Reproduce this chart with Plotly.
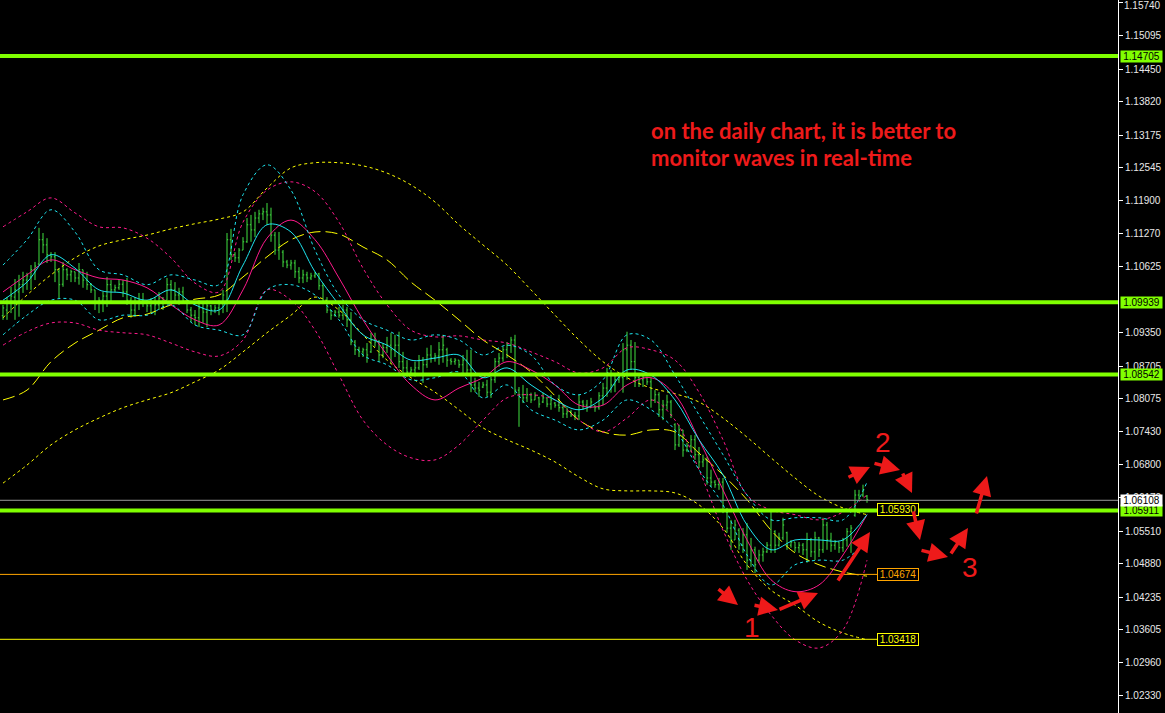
import plotly.graph_objects as go

# ---------------- data ----------------
bar_index = list(range(217))

bar_high = [1.0989,1.1004,1.1024,1.1039,1.1047,1.1053,1.1051,1.1066,1.1072,1.1138,
 1.1128,1.1118,1.1091,1.1091,1.1060,1.1072,1.1060,1.1057,1.1053,1.1070,
 1.1057,1.1053,1.1031,1.1018,1.1004,1.1014,1.1043,1.1037,1.1028,1.1037,
 1.1037,1.1041,1.1004,1.1004,1.1012,1.1012,1.0998,1.1002,1.1004,1.1014,
 1.1004,1.1041,1.1037,1.1033,1.1022,1.1024,1.0995,1.0985,1.0979,1.0998,
 1.0993,1.0998,1.0989,1.0989,1.0998,1.1018,1.1128,1.1136,1.1091,1.1099,
 1.1120,1.1157,1.1163,1.1169,1.1173,1.1177,1.1186,1.1177,1.1130,1.1130,
 1.1095,1.1076,1.1076,1.1076,1.1062,1.1057,1.1053,1.1051,1.1053,1.1051,
 1.1031,1.1004,1.0979,1.0979,1.0985,1.0989,1.0985,1.0975,1.0921,1.0908,
 1.0906,1.0915,1.0935,1.0935,1.0921,1.0915,1.0927,1.0935,1.0931,1.0937,
 1.0898,1.0882,1.0869,1.0879,1.0892,1.0888,1.0906,1.0911,1.0896,1.0917,
 1.0931,1.0906,1.0886,1.0886,1.0882,1.0892,1.0902,1.0902,1.0848,1.0840,
 1.0840,1.0844,1.0850,1.0886,1.0896,1.0908,1.0917,1.0927,1.0931,1.0830,
 1.0834,1.0828,1.0819,1.0820,1.0811,1.0819,1.0809,1.0815,1.0801,1.0815,
 1.0795,1.0790,1.0786,1.0782,1.0815,1.0805,1.0805,1.0809,1.0795,1.0820,
 1.0838,1.0867,1.0863,1.0853,1.0857,1.0915,1.0937,1.0921,1.0917,1.0857,
 1.0853,1.0850,1.0848,1.0824,1.0820,1.0805,1.0815,1.0805,1.0760,1.0757,
 1.0747,1.0722,1.0737,1.0737,1.0714,1.0699,1.0695,1.0670,1.0650,1.0654,
 1.0654,1.0596,1.0573,1.0573,1.0557,1.0557,1.0567,1.0538,1.0521,1.0515,
 1.0519,1.0530,1.0592,1.0553,1.0548,1.0577,1.0550,1.0534,1.0530,1.0530,
 1.0528,1.0548,1.0538,1.0550,1.0540,1.0577,1.0569,1.0548,1.0534,1.0530,
 1.0538,1.0557,1.0563,1.0631,1.0631,1.0641,1.0621]

bar_low = [1.0960,1.0960,1.0973,1.0960,1.0966,1.1012,1.1018,1.1018,1.1037,1.1066,
 1.1089,1.1070,1.1072,1.1033,1.1002,1.1024,1.1037,1.1033,1.1033,1.1028,
 1.1022,1.1018,1.1012,1.0979,1.0973,1.0975,1.0985,1.0993,1.1014,1.1018,
 1.1004,1.0989,1.0964,1.0966,1.0979,1.0985,1.0975,1.0973,1.0969,1.0979,
 1.0979,1.0998,1.0998,1.0993,1.0989,1.0993,1.0973,1.0956,1.0950,1.0946,
 1.0954,1.0946,1.0969,1.0973,1.0969,1.0973,1.0975,1.1076,1.1072,1.1070,
 1.1095,1.1109,1.1111,1.1120,1.1147,1.1153,1.1144,1.1111,1.1086,1.1076,
 1.1062,1.1060,1.1057,1.1041,1.1031,1.1031,1.1033,1.1037,1.1041,1.1018,
 1.0993,1.0973,1.0960,1.0966,1.0964,1.0960,1.0946,1.0911,1.0892,1.0888,
 1.0888,1.0877,1.0896,1.0908,1.0879,1.0886,1.0896,1.0877,1.0888,1.0867,
 1.0853,1.0850,1.0853,1.0850,1.0863,1.0838,1.0867,1.0877,1.0879,1.0873,
 1.0877,1.0869,1.0873,1.0873,1.0867,1.0853,1.0853,1.0820,1.0820,1.0811,
 1.0828,1.0811,1.0809,1.0838,1.0869,1.0879,1.0886,1.0896,1.0815,1.0753,
 1.0799,1.0801,1.0799,1.0805,1.0790,1.0799,1.0791,1.0786,1.0790,1.0782,
 1.0770,1.0770,1.0772,1.0766,1.0766,1.0786,1.0782,1.0790,1.0782,1.0786,
 1.0795,1.0811,1.0819,1.0820,1.0838,1.0819,1.0844,1.0863,1.0830,1.0830,
 1.0830,1.0834,1.0790,1.0799,1.0772,1.0766,1.0786,1.0770,1.0708,1.0714,
 1.0695,1.0704,1.0704,1.0689,1.0673,1.0675,1.0641,1.0637,1.0635,1.0631,
 1.0586,1.0548,1.0515,1.0534,1.0515,1.0509,1.0476,1.0482,1.0470,1.0490,
 1.0492,1.0509,1.0509,1.0509,1.0521,1.0534,1.0515,1.0519,1.0511,1.0509,
 1.0505,1.0490,1.0501,1.0495,1.0501,1.0509,1.0515,1.0511,1.0515,1.0509,
 1.0511,1.0521,1.0509,1.0579,1.0612,1.0617,1.0606]

bar_open = [1.0968,1.0979,1.0993,1.1004,1.1014,1.1028,1.1037,1.1043,1.1057,1.1068,
 1.1115,1.1105,1.1086,1.1082,1.1053,1.1029,1.1057,1.1047,1.1053,1.1041,
 1.1057,1.1037,1.1028,1.1018,1.0993,1.0998,1.1006,1.1028,1.1018,1.1022,
 1.1029,1.1014,1.0998,1.0979,1.0995,1.0998,1.0993,1.0987,1.0995,1.0989,
 1.1002,1.0998,1.1028,1.1018,1.1008,1.1014,1.0993,1.0979,1.0969,1.0964,
 1.0983,1.0975,1.0987,1.0979,1.0983,1.0991,1.0998,1.1115,1.1086,1.1080,
 1.1095,1.1111,1.1144,1.1134,1.1157,1.1165,1.1169,1.1163,1.1124,1.1095,
 1.1091,1.1072,1.1066,1.1070,1.1053,1.1041,1.1047,1.1041,1.1045,1.1049,
 1.1026,1.0998,1.0979,1.0969,1.0975,1.0969,1.0979,1.0960,1.0917,1.0902,
 1.0898,1.0902,1.0898,1.0921,1.0917,1.0892,1.0906,1.0911,1.0902,1.0911,
 1.0879,1.0867,1.0859,1.0863,1.0867,1.0882,1.0873,1.0892,1.0886,1.0890,
 1.0902,1.0902,1.0882,1.0879,1.0882,1.0873,1.0882,1.0863,1.0834,1.0828,
 1.0830,1.0834,1.0820,1.0844,1.0879,1.0886,1.0902,1.0911,1.0921,1.0824,
 1.0815,1.0809,1.0815,1.0805,1.0809,1.0801,1.0809,1.0797,1.0799,1.0795,
 1.0790,1.0778,1.0782,1.0776,1.0774,1.0801,1.0795,1.0790,1.0793,1.0790,
 1.0813,1.0828,1.0853,1.0834,1.0844,1.0848,1.0902,1.0911,1.0879,1.0848,
 1.0844,1.0848,1.0840,1.0805,1.0815,1.0786,1.0795,1.0801,1.0757,1.0718,
 1.0747,1.0708,1.0716,1.0728,1.0699,1.0685,1.0689,1.0654,1.0646,1.0641,
 1.0646,1.0592,1.0557,1.0534,1.0553,1.0524,1.0544,1.0495,1.0515,1.0495,
 1.0505,1.0511,1.0524,1.0550,1.0524,1.0538,1.0548,1.0524,1.0530,1.0519,
 1.0524,1.0515,1.0534,1.0511,1.0538,1.0515,1.0563,1.0534,1.0524,1.0530,
 1.0519,1.0534,1.0550,1.0582,1.0621,1.0621,1.0619]

bar_close = [1.0983,1.0995,1.1006,1.1018,1.1028,1.1037,1.1045,1.1057,1.1064,1.1115,
 1.1105,1.1086,1.1082,1.1057,1.1028,1.1057,1.1047,1.1053,1.1041,1.1057,
 1.1037,1.1028,1.1018,1.0993,1.0998,1.1006,1.1028,1.1018,1.1022,1.1029,
 1.1014,1.0998,1.0979,1.0995,1.0998,1.0993,1.0987,1.0995,1.0989,1.1002,
 1.0995,1.1028,1.1018,1.1008,1.1014,1.0998,1.0979,1.0969,1.0964,1.0983,
 1.0975,1.0987,1.0979,1.0983,1.0991,1.1008,1.1115,1.1086,1.1080,1.1095,
 1.1111,1.1144,1.1134,1.1157,1.1165,1.1169,1.1163,1.1124,1.1095,1.1105,
 1.1072,1.1066,1.1070,1.1053,1.1041,1.1047,1.1041,1.1045,1.1049,1.1026,
 1.0998,1.0979,1.0969,1.0975,1.0969,1.0979,1.0960,1.0917,1.0902,1.0898,
 1.0902,1.0892,1.0921,1.0917,1.0892,1.0906,1.0911,1.0902,1.0911,1.0879,
 1.0867,1.0859,1.0863,1.0867,1.0882,1.0873,1.0892,1.0886,1.0890,1.0902,
 1.0911,1.0882,1.0879,1.0882,1.0873,1.0882,1.0863,1.0834,1.0828,1.0824,
 1.0834,1.0820,1.0844,1.0879,1.0886,1.0902,1.0911,1.0921,1.0824,1.0815,
 1.0809,1.0815,1.0805,1.0813,1.0797,1.0809,1.0797,1.0805,1.0795,1.0790,
 1.0778,1.0782,1.0776,1.0774,1.0801,1.0795,1.0790,1.0801,1.0790,1.0813,
 1.0828,1.0853,1.0834,1.0844,1.0848,1.0902,1.0911,1.0879,1.0848,1.0844,
 1.0848,1.0840,1.0805,1.0815,1.0786,1.0795,1.0801,1.0776,1.0718,1.0747,
 1.0708,1.0716,1.0728,1.0699,1.0685,1.0689,1.0654,1.0646,1.0641,1.0646,
 1.0592,1.0557,1.0534,1.0563,1.0524,1.0544,1.0495,1.0515,1.0486,1.0505,
 1.0511,1.0524,1.0573,1.0524,1.0538,1.0563,1.0524,1.0530,1.0519,1.0524,
 1.0515,1.0534,1.0511,1.0538,1.0515,1.0563,1.0534,1.0524,1.0530,1.0519,
 1.0534,1.0550,1.0557,1.0621,1.0615,1.0631,1.0612]

# indicator lines, read every 6 bars
band_index = list(range(0, 217, 6))
yellow_mid = [1.0805,1.0824,1.0879,1.0915,1.0940,1.0964,1.0971,1.0989,1.1000,1.1008,1.1043,1.1082,1.1115,1.1130,1.1126,1.1101,1.1076,1.1033,1.0998,1.0960,1.0921,1.0892,1.0859,1.0813,1.0766,1.0743,1.0737,1.0747,1.0743,1.0702,1.0660,1.0612,1.0553,1.0509,1.0486,1.0472,1.0464]
yellow_up = [1.0964,1.1008,1.1047,1.1080,1.1103,1.1115,1.1124,1.1136,1.1146,1.1155,1.1169,1.1215,1.1254,1.1264,1.1264,1.1258,1.1244,1.1221,1.1188,1.1144,1.1105,1.1066,1.1018,1.0969,1.0921,1.0879,1.0848,1.0828,1.0817,1.0801,1.0770,1.0733,1.0693,1.0654,1.0619,1.0596,1.0583]
yellow_lo = [1.0644,1.0679,1.0718,1.0747,1.0770,1.0790,1.0805,1.0819,1.0840,1.0863,1.0898,1.0935,1.0969,1.1004,1.0979,1.0931,1.0882,1.0848,1.0820,1.0786,1.0751,1.0728,1.0708,1.0685,1.0656,1.0633,1.0629,1.0629,1.0625,1.0602,1.0557,1.0486,1.0437,1.0408,1.0375,1.0354,1.0341]
magenta_mid = [1.1014,1.1047,1.1076,1.1057,1.1041,1.1037,1.1022,1.0989,1.0960,1.0950,1.1018,1.1118,1.1153,1.1115,1.1041,1.0960,1.0892,1.0834,1.0805,1.0828,1.0848,1.0879,1.0863,1.0834,1.0795,1.0795,1.0834,1.0848,1.0815,1.0728,1.0631,1.0534,1.0457,1.0434,1.0447,1.0505,1.0583]
magenta_up = [1.1140,1.1169,1.1196,1.1167,1.1140,1.1138,1.1118,1.1080,1.1031,1.1014,1.1149,1.1211,1.1227,1.1208,1.1149,1.1060,1.0989,1.0940,1.0927,1.0929,1.0921,1.0915,1.0898,1.0879,1.0857,1.0867,1.0906,1.0902,1.0882,1.0820,1.0728,1.0621,1.0592,1.0583,1.0573,1.0588,1.0621]
magenta_lo = [1.0911,1.0937,1.0954,1.0954,1.0940,1.0935,1.0931,1.0915,1.0898,1.0890,1.0921,1.1018,1.0998,1.0940,1.0853,1.0766,1.0718,1.0693,1.0689,1.0718,1.0766,1.0809,1.0815,1.0805,1.0766,1.0743,1.0770,1.0805,1.0766,1.0670,1.0553,1.0457,1.0389,1.0341,1.0325,1.0360,1.0495]
cyan_mid = [1.0998,1.1033,1.1086,1.1060,1.1018,1.1012,1.0998,1.1018,1.0989,1.0979,1.1066,1.1144,1.1130,1.1053,1.0989,1.0931,1.0911,1.0882,1.0886,1.0892,1.0848,1.0867,1.0834,1.0805,1.0786,1.0809,1.0863,1.0853,1.0805,1.0728,1.0660,1.0563,1.0515,1.0534,1.0534,1.0534,1.0583]
cyan_up = [1.1066,1.1115,1.1173,1.1130,1.1057,1.1047,1.1028,1.1047,1.1037,1.1028,1.1202,1.1260,1.1211,1.1095,1.1008,1.0960,1.0940,1.0921,1.0931,1.0921,1.0892,1.0911,1.0892,1.0834,1.0815,1.0844,1.0931,1.0921,1.0853,1.0776,1.0699,1.0621,1.0573,1.0577,1.0577,1.0573,1.0646]
cyan_lo = [1.0931,1.0969,1.0998,1.0998,1.0960,1.0969,1.0969,1.0989,1.0950,1.0940,1.0931,1.1018,1.1028,1.1008,1.0960,1.0892,1.0873,1.0844,1.0848,1.0859,1.0809,1.0834,1.0786,1.0766,1.0747,1.0766,1.0805,1.0786,1.0747,1.0670,1.0602,1.0505,1.0447,1.0486,1.0495,1.0495,1.0534]

axis_ticks = [1.15740,1.15095,1.14450,1.13820,1.13175,1.12545,1.11900,1.11270,1.10625,
              1.09350,1.08705,1.08075,1.07430,1.06800,1.06170,1.05510,1.04880,1.04235,
              1.03605,1.02960,1.02330]

green_levels = [1.14705, 1.09939, 1.08542, 1.05911]
current_price = 1.06108
orange_level = 1.04674
yellow_levels = [1.05930, 1.03418]

note_lines = ["on the daily chart, it is better to", "monitor waves in real-time"]
wave_labels = ["1", "2", "3"]

# ---------------- styling / layout ----------------
W, H = 1165, 713
PLOT_W = 1118
Y_RANGE = [1.01992, 1.15789]
X_RANGE = [-0.75, 278.75]

BAR_GREEN = "#40e040"
CYAN = "#1ee6f0"
MAGENTA = "#ff1a8c"
YELLOW = "#ffff00"
LEVEL_GREEN = "#80ff00"
RED = "#ee1a1a"
DOT = "3px,3px"
LBL_FONT = "Liberation Sans"

fig = go.Figure()

fig.add_trace(go.Ohlc(
    x=bar_index, open=bar_open, high=bar_high, low=bar_low, close=bar_close,
    increasing=dict(line=dict(color=BAR_GREEN, width=1)),
    decreasing=dict(line=dict(color=BAR_GREEN, width=1)),
    tickwidth=0.3, hoverinfo="skip", showlegend=False))

def band(y, color, dash):
    fig.add_trace(go.Scatter(
        x=band_index, y=y, mode="lines",
        line=dict(color=color, width=1, dash=dash, shape="spline", smoothing=1.0),
        hoverinfo="skip", showlegend=False))

band(yellow_up, YELLOW, DOT)
band(yellow_lo, YELLOW, DOT)
band(yellow_mid, YELLOW, "12px,5px")
band(magenta_up, MAGENTA, DOT)
band(magenta_lo, MAGENTA, DOT)
band(magenta_mid, MAGENTA, "solid")
band(cyan_up, CYAN, DOT)
band(cyan_lo, CYAN, DOT)
band(cyan_mid, CYAN, "solid")

shapes = []
label_x_left = 877 / PLOT_W
for lv in yellow_levels:
    shapes.append(dict(type="line", xref="paper", x0=0, x1=label_x_left, yref="y", y0=lv, y1=lv,
                       line=dict(color=YELLOW, width=1), layer="above"))
shapes.append(dict(type="line", xref="paper", x0=0, x1=label_x_left, yref="y", y0=orange_level, y1=orange_level,
                   line=dict(color="#ffa500", width=1), layer="above"))
shapes.append(dict(type="line", xref="paper", x0=0, x1=1, yref="y", y0=current_price, y1=current_price,
                   line=dict(color="#9a9a9a", width=1), layer="above"))
for lv in green_levels:
    shapes.append(dict(type="line", xref="paper", x0=0, x1=1, yref="y", y0=lv, y1=lv,
                       line=dict(color=LEVEL_GREEN, width=4), layer="above"))

ann = []
# top axis label that sits at the very edge of the plot
ann.append(dict(xref="paper", x=1, xanchor="left", xshift=4, yref="paper", y=1, yanchor="top",
                yshift=2, text=f"{axis_ticks[0]:.5f}", showarrow=False,
                font=dict(family=LBL_FONT, size=10, color="#e8e8e8")))
for lv in green_levels:
    ann.append(dict(xref="paper", x=1, xanchor="left", xshift=2, yref="y", y=lv, yanchor="middle",
                    text=f"{lv:.5f}", showarrow=False, bgcolor=LEVEL_GREEN, borderpad=0,
                    width=41, height=11, font=dict(family=LBL_FONT, size=10, color="#000000")))
ann.append(dict(xref="paper", x=1, xanchor="left", xshift=2, yref="y", y=current_price, yanchor="middle",
                text=f"{current_price:.5f}", showarrow=False, bgcolor="#ffffff", borderpad=0,
                width=41, height=11, font=dict(family=LBL_FONT, size=10, color="#000000")))
for lv, col in [(yellow_levels[0], YELLOW), (orange_level, "#ffa500"), (yellow_levels[1], YELLOW)]:
    ann.append(dict(xref="paper", x=label_x_left, xanchor="left", yref="y", y=lv, yanchor="middle",
                    text=f"{lv:.5f}", showarrow=False, bgcolor="#000000", bordercolor=col,
                    borderwidth=1, borderpad=0, width=40, height=11,
                    font=dict(family=LBL_FONT, size=10, color=col)))

def px(x):
    return x / PLOT_W

def py(y):
    return 1 - y / H

for i, line in enumerate(note_lines):
    ann.append(dict(xref="paper", yref="paper", x=px(649), y=py(131 + 27 * i), xanchor="left",
                    yanchor="middle", text=line, showarrow=False,
                    font=dict(family="Lato", size=22, color=RED, weight="bold")))

for lbl, (cx, cy) in zip(wave_labels, [(752, 627), (883, 442), (970, 567)]):
    ann.append(dict(xref="paper", yref="paper", x=px(cx), y=py(cy), xanchor="center", yanchor="middle",
                    text=lbl, showarrow=False, font=dict(family="Liberation Sans", size=28, color=RED)))

arrows = [((717, 588), (738, 605)), ((753, 605), (778, 610)), ((778, 610), (818, 593)),
          ((837, 582), (870, 532)), ((847, 478), (870, 467)), ((873, 463), (900, 470)),
          ((902, 472), (912, 493)), ((913, 510), (920, 540)), ((920, 550), (948, 557)),
          ((950, 555), (968, 528)), ((976, 515), (987, 476))]
for (tx, ty), (hx, hy) in arrows:
    ann.append(dict(xref="paper", yref="paper", x=px(hx), y=py(hy), ax=tx - hx, ay=ty - hy,
                    axref="pixel", ayref="pixel", text="", showarrow=True, arrowhead=2,
                    arrowsize=1.1, arrowwidth=3.5, arrowcolor=RED, standoff=0, startstandoff=0))

fig.update_layout(
    width=W, height=H,
    margin=dict(l=0, r=W - PLOT_W, t=0, b=0, pad=0),
    paper_bgcolor="#000000", plot_bgcolor="#000000",
    showlegend=False,
    xaxis=dict(range=X_RANGE, visible=False, showgrid=False, zeroline=False,
               rangeslider=dict(visible=False), fixedrange=True),
    yaxis=dict(range=Y_RANGE, side="right", tickvals=axis_ticks,
               ticktext=[f"{v:.5f}" for v in axis_ticks],
               tickfont=dict(family=LBL_FONT, size=10, color="#e8e8e8"),
               ticks="outside", ticklen=4, tickcolor="#ffffff",
               showline=True, linecolor="#ffffff", linewidth=1,
               showgrid=False, zeroline=False, fixedrange=True),
    shapes=shapes, annotations=ann,
)

fig.write_html("out.html", config={"displayModeBar": False},
               post_script="document.body.style.margin='0';document.body.style.background='#000';")
